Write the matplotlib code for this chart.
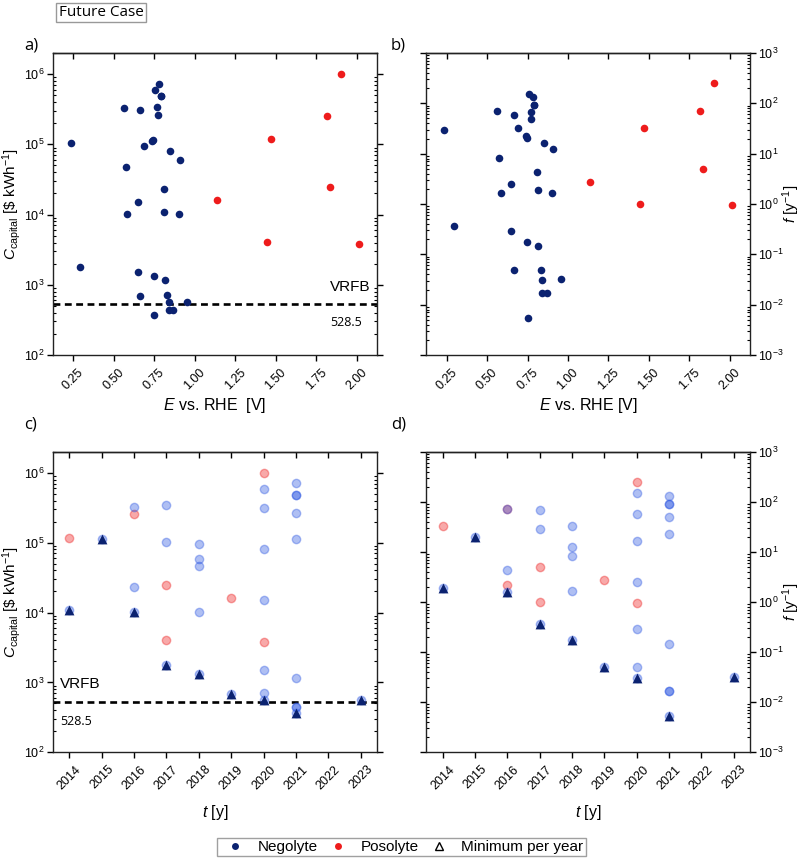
import numpy as np
import pandas as pd
import matplotlib
matplotlib.use("Agg")
import matplotlib.pyplot as plt
import matplotlib.transforms as mtransforms
from matplotlib.lines import Line2D
from matplotlib.ticker import LogLocator, NullFormatter, FixedLocator

plt.rcParams['font.family'] = ['Liberation Sans', 'DejaVu Sans']
plt.rcParams['mathtext.fontset'] = 'custom'
plt.rcParams['mathtext.rm'] = 'Liberation Sans'
plt.rcParams['mathtext.it'] = 'Liberation Sans:italic'
plt.rcParams['mathtext.bf'] = 'Liberation Sans:bold'

# ---------------- data ----------------
neg_E = [0.234, 0.293, 0.563, 0.573, 0.583, 0.647, 0.647, 0.664, 0.664, 0.688,
         0.744, 0.738, 0.748, 0.750, 0.756, 0.769, 0.771, 0.781, 0.791, 0.791,
         0.808, 0.812, 0.816, 0.830, 0.840, 0.840, 0.849, 0.867, 0.900, 0.908, 0.954]
neg_C = [1.03e5, 1790, 3.27e5, 4.69e4, 1.02e4, 1.52e4, 1520, 3.09e5, 685, 9.47e4,
         1.14e5, 1.12e5, 1340, 370, 5.9e5, 3.45e5, 2.65e5, 7.25e5, 4.85e5, 4.85e5,
         2.35e4, 1.09e4, 1170, 705, 560, 440, 8.13e4, 440, 1.01e4, 5.9e4, 560]
neg_f = [29, 0.368, 71, 8.2, 1.62, 2.48, 0.288, 57.5, 0.0498, 32.2,
         20.1, 22.7, 0.177, 0.00536, 153, 68, 49.4, 133, 91, 91,
         4.3, 1.94, 0.145, 0.0498, 0.0305, 0.0168, 16.2, 0.0168, 1.69, 12.3, 0.0324]
neg_year = [2017, 2017, 2016, 2018, 2016, 2020, 2020, 2020, 2019, 2018,
            2015, 2021, 2018, 2021, 2020, 2017, 2021, 2021, 2021, 2021,
            2016, 2014, 2021, 2020, 2020, 2021, 2020, 2021, 2018, 2018, 2023]

pos_E = [1.137, 1.447, 1.470, 1.814, 1.832, 1.900, 2.011]
pos_C = [1.6e4, 4110, 1.18e5, 2.57e5, 2.48e4, 1.0e6, 3770]
pos_f = [2.72, 1.0, 32.2, 71, 4.93, 253, 0.977]
pos_year = [2019, 2017, 2014, 2016, 2017, 2020, 2020]

# extra posolyte point visible only in panel d
d_extra_pos_year = [2016]
d_extra_pos_f = [2.2]

vrfb_cost = 528.5

E_ticks = [0.25, 0.50, 0.75, 1.00, 1.25, 1.50, 1.75, 2.00]
year_ticks = [2014, 2015, 2016, 2017, 2018, 2019, 2020, 2021, 2022, 2023]

neg_df = pd.DataFrame({'year': neg_year, 'C': neg_C, 'f': neg_f})
min_per_year = neg_df.groupby('year').min().reset_index()

# ---------------- style ----------------
NAVY = '#0b2270'
RED = '#ee1c1c'
LBLUE = '#2f59e2'
LRED = '#ed1f1f'
ALPHA = 0.38
TICK_FS = 9
LAB_FS = 11.5

fig = plt.figure(figsize=(8.0, 8.58), dpi=100)
W, H = 800.0, 858.0


def make_ax(l, r, t, b):
    return fig.add_axes([l / W, 1 - b / H, (r - l) / W, (b - t) / H])


ax_a = make_ax(53, 377, 53, 355)
ax_b = make_ax(426.5, 750, 53, 355)
ax_c = make_ax(53, 377, 451.7, 752.3)
ax_d = make_ax(426.5, 750, 451.7, 752.3)


def style_axis(ax, xticks, xlim, ylim, right_labels, xfmt):
    ax.set_yscale('log')
    ax.set_xlim(*xlim)
    ax.set_ylim(*ylim)
    ax.set_xticks(xticks)
    ax.set_xticklabels([xfmt(v) for v in xticks], rotation=45, fontsize=TICK_FS)
    ax.yaxis.set_major_locator(LogLocator(base=10, numticks=20))
    ax.yaxis.set_minor_locator(LogLocator(base=10, subs=np.arange(2, 10), numticks=20))
    ax.yaxis.set_minor_formatter(NullFormatter())
    ax.tick_params(axis='x', which='major', direction='out', length=4, width=1,
                   pad=4, bottom=True, top=False, labelsize=TICK_FS)
    ax.tick_params(axis='y', which='major', direction='out', length=4, width=1,
                   left=True, right=True, labelleft=not right_labels,
                   labelright=right_labels, labelsize=TICK_FS, pad=2)
    ax.tick_params(axis='y', which='minor', direction='in', length=2.5, width=0.8,
                   left=True, right=True)
    for s in ax.spines.values():
        s.set_linewidth(1.0)
        s.set_color('#222222')
    sec = ax.secondary_xaxis('top')
    sec.xaxis.set_major_locator(FixedLocator(xticks))
    sec.tick_params(axis='x', direction='in', length=4, width=1, labeltop=False)
    sec.spines['top'].set_linewidth(1.0)
    sec.spines['top'].set_color('#222222')


for ax in (ax_a, ax_b):
    style_axis(ax, E_ticks, (0.125, 2.125), (1e2, 2e6) if ax is ax_a else (1e-3, 1e3),
               ax is ax_b, lambda v: f'{v:.2f}')
for ax in (ax_c, ax_d):
    style_axis(ax, year_ticks, (2013.5, 2023.5), (1e2, 2e6) if ax is ax_c else (1e-3, 1e3),
               ax is ax_d, lambda v: f'{v:d}')

S_DARK = 30
S_LIGHT = 36
S_TRI = 50

# panel a
ax_a.scatter(neg_E, neg_C, s=S_DARK, color=NAVY, linewidths=0, zorder=3)
ax_a.scatter(pos_E, pos_C, s=S_DARK, color=RED, linewidths=0, zorder=3)
# panel b
ax_b.scatter(neg_E, neg_f, s=S_DARK, color=NAVY, linewidths=0, zorder=3)
ax_b.scatter(pos_E, pos_f, s=S_DARK, color=RED, linewidths=0, zorder=3)
# panel c
ax_c.scatter(pos_year, pos_C, s=S_LIGHT, facecolor=LRED, edgecolor=LRED,
             alpha=ALPHA, linewidths=1.0, zorder=3)
ax_c.scatter(neg_year, neg_C, s=S_LIGHT, facecolor=LBLUE, edgecolor=LBLUE,
             alpha=ALPHA, linewidths=1.0, zorder=3)
ax_c.scatter(min_per_year['year'], min_per_year['C'], s=S_TRI, marker='^',
             color=NAVY, linewidths=0, zorder=4)
# panel d
ax_d.scatter(pos_year + d_extra_pos_year, pos_f + d_extra_pos_f, s=S_LIGHT,
             facecolor=LRED, edgecolor=LRED, alpha=ALPHA, linewidths=1.0, zorder=3)
ax_d.scatter(neg_year, neg_f, s=S_LIGHT, facecolor=LBLUE, edgecolor=LBLUE,
             alpha=ALPHA, linewidths=1.0, zorder=3)
ax_d.scatter(min_per_year['year'], min_per_year['f'], s=S_TRI, marker='^',
             color=NAVY, linewidths=0, zorder=4)

# VRFB reference lines
for ax in (ax_a, ax_c):
    ax.axhline(vrfb_cost, color='black', linestyle=(0, (2.6, 1.7)), linewidth=1.9, zorder=2)

tr_a = mtransforms.blended_transform_factory(ax_a.transAxes, ax_a.transData)
ax_a.text(0.855, 935, 'VRFB', transform=tr_a, fontsize=11, ha='left', va='center')
ax_a.text(0.855, 287, f'{vrfb_cost}', transform=tr_a, fontsize=9, ha='left',
          va='center', family=['Open Sans', 'DejaVu Sans'])
tr_c = mtransforms.blended_transform_factory(ax_c.transAxes, ax_c.transData)
ax_c.text(0.022, 945, 'VRFB', transform=tr_c, fontsize=11, ha='left', va='center')
ax_c.text(0.022, 274, f'{vrfb_cost}', transform=tr_c, fontsize=9, ha='left',
          va='center', family=['Open Sans', 'DejaVu Sans'])

# axis labels
ax_a.set_xlabel(r'$E$ vs. RHE  [V]', fontsize=LAB_FS, labelpad=3)
ax_b.set_xlabel(r'$E$ vs. RHE [V]', fontsize=LAB_FS, labelpad=3)
ax_c.set_xlabel(r'$t$ [y]', fontsize=LAB_FS, labelpad=8)
ax_d.set_xlabel(r'$t$ [y]', fontsize=LAB_FS, labelpad=8)
for ax in (ax_a, ax_c):
    ax.set_ylabel(r'$C_{\mathrm{capital}}$ [\$ kWh$^{-1}$]', fontsize=11)
    ax.yaxis.set_label_coords((23 - 53) / 324.0, 0.5)
for ax in (ax_b, ax_d):
    ax.yaxis.set_label_position('right')
    ax.set_ylabel(r'$f$ [y$^{-1}$]', fontsize=11, rotation=90)
    ax.yaxis.set_label_coords((780 - 426.5) / 323.5, 0.5)

# panel letters
OS = ['Open Sans', 'DejaVu Sans']
fig.text(24 / W, 1 - 45 / H, 'a)', fontsize=12, family=OS, va='center', ha='left')
fig.text(391 / W, 1 - 45 / H, 'b)', fontsize=12, family=OS, va='center', ha='left')
fig.text(24 / W, 1 - 425 / H, 'c)', fontsize=12, family=OS, va='center', ha='left')
fig.text(391 / W, 1 - 425 / H, 'd)', fontsize=12, family=OS, va='center', ha='left')

# title box
fig.text(101 / W, 1 - 12.5 / H, 'Future Case', fontsize=11, family=OS, ha='center',
         va='center', bbox=dict(boxstyle='square,pad=0.15', facecolor='white',
                                edgecolor='#999999', linewidth=1.0))

# legend
handles = [
    Line2D([], [], linestyle='none', marker='o', markersize=5, color=NAVY, markeredgewidth=0),
    Line2D([], [], linestyle='none', marker='o', markersize=5, color=RED, markeredgewidth=0),
    Line2D([], [], linestyle='none', marker='^', markersize=6, markerfacecolor='none',
           markeredgecolor='black', markeredgewidth=1.0),
]
labels = ['Negolyte', 'Posolyte', 'Minimum per year']
leg = fig.legend(handles, labels, loc='center', bbox_to_anchor=(401.5 / W, 1 - 847 / H),
                 ncol=3, fontsize=11, frameon=True, fancybox=False, edgecolor='#888888',
                 borderpad=0.15, handlelength=2.0, handletextpad=0.5, columnspacing=0.3,
                 borderaxespad=0)
leg.get_frame().set_linewidth(1.0)

fig.savefig('out.png', dpi=100)
